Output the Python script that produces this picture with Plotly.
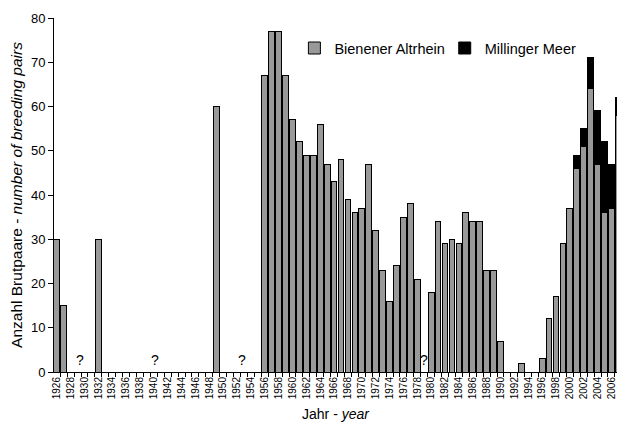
import plotly.graph_objects as go

years = list(range(1926, 2008))

bienen = [
    30, 15, 0, 0, 0, 0, 30, 0, 0, 0,          # 1926-1935
    0, 0, 0, 0, 0, 0, 0, 0, 0, 0,             # 1936-1945
    0, 0, 0, 60, 0, 0, 0, 0, 0, 0,            # 1946-1955
    67, 77, 77, 67, 57, 52, 49, 49, 56, 47,   # 1956-1965
    43, 48, 39, 36, 37, 47, 32, 23, 16, 24,   # 1966-1975
    35, 38, 21, None, 18, 34, 29, 30, 29, 36, # 1976-1985
    34, 34, 23, 23, 7, 0, 0, 2, 0, 0,         # 1986-1995
    3, 12, 17, 29, 37, 46, 51, 64, 47, 36,    # 1996-2005
    37, 58                                    # 2006-2007
]

millinger = [None] * 75 + [3, 4, 7, 12, 16, 10, 4]  # 2001-2007

unknown_years = [1929.4, 1940.2, 1952.7, 1979]
tick_years = list(range(1926, 2007, 2))

series_names = ["Bienener Altrhein", "Millinger Meer"]
FONT = "Liberation Sans, Arial, sans-serif"

fig = go.Figure()
fig.add_trace(go.Bar(
    x=years, y=bienen, name=series_names[0],
    marker=dict(color="#999999", line=dict(color="#000000", width=1)),
    legend="legend",
))
fig.add_trace(go.Bar(
    x=years, y=millinger, name=series_names[1],
    marker=dict(color="#000000", line=dict(color="#000000", width=1)),
    legend="legend2",
))

for yr in unknown_years:
    fig.add_annotation(x=yr, y=2.8, text="?", showarrow=False,
                       xref="x", yref="y", yanchor="middle",
                       font=dict(size=14, color="#000000", family=FONT))

fig.update_layout(
    width=625, height=429,
    margin=dict(l=46, r=16, t=10, b=65),
    barmode="stack", bargap=0.17,
    plot_bgcolor="white", paper_bgcolor="white",
    font=dict(family=FONT, size=13, color="#000000"),
    showlegend=True,
    legend=dict(orientation="h", x=0.427, y=0.915, xanchor="left", yanchor="middle",
                font=dict(size=14.5), bgcolor="rgba(0,0,0,0)", itemwidth=30),
    legend2=dict(orientation="h", x=0.694, y=0.915, xanchor="left", yanchor="middle",
                 font=dict(size=14.5), bgcolor="rgba(0,0,0,0)", itemwidth=30),
    xaxis=dict(
        range=[1925.6, 2006.8],
        tickmode="array", tickvals=tick_years, ticktext=[str(y) for y in tick_years],
        tickangle=-90, tickfont=dict(size=10),
        ticks="", showline=True, linecolor="#000000", linewidth=1,
        showgrid=False, zeroline=False, automargin=False,
        minor=dict(ticks="outside", ticklen=4, tick0=1925.5, dtick=1,
                   tickcolor="#000000", showgrid=False),
        title=dict(text="Jahr - <i>year</i>", font=dict(size=14), standoff=10),
    ),
    yaxis=dict(
        range=[0, 80], dtick=10, tick0=0,
        ticks="outside", ticklen=5, tickcolor="#000000",
        showline=True, linecolor="#000000", linewidth=1,
        showgrid=False, zeroline=False, tickfont=dict(size=13), automargin=False,
        title=dict(text="Anzahl Brutpaare - <i>number of breeding pairs</i>",
                   font=dict(size=15.5), standoff=5),
    ),
)

fig.write_html("out.html")
